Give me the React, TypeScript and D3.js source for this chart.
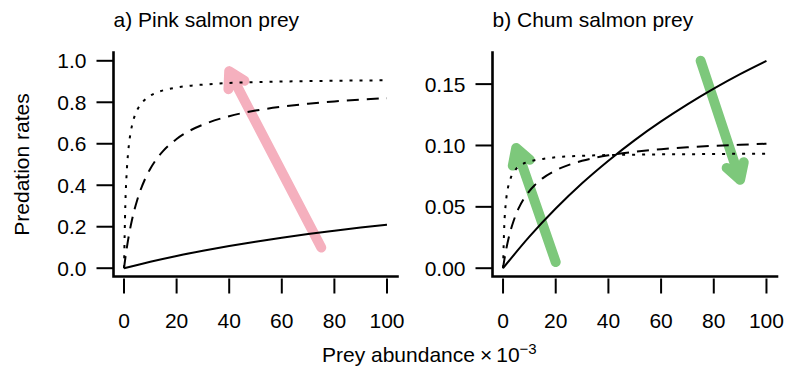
import React from "react";
import * as d3 from "d3";

// x values used for the steep curves and for the slow curves
const fastX = [0, 0.5, 1, 1.5, 2, 3, 4, 5, 6, 8, 10, 12, 15, 20, 25, 30, 40, 50, 60, 70, 80, 90, 100];
const slowX = [0, 10, 20, 30, 40, 50, 60, 70, 80, 90, 100];

const xTicks = [0, 20, 40, 60, 80, 100];
const pinkYTicks = [0, 0.2, 0.4, 0.6, 0.8, 1.0];
const chumYTicks = [0, 0.05, 0.1, 0.15];

// a) Pink salmon prey (read off the picture)
const pinkDotted = [0, 0.305, 0.458, 0.549, 0.61, 0.686, 0.732, 0.763, 0.784, 0.813, 0.832, 0.845, 0.858, 0.871, 0.88, 0.885, 0.893, 0.897, 0.9, 0.902, 0.904, 0.905, 0.906];
const pinkDashed = [0, 0.049, 0.093, 0.133, 0.169, 0.231, 0.284, 0.328, 0.367, 0.43, 0.48, 0.52, 0.567, 0.623, 0.663, 0.692, 0.733, 0.76, 0.779, 0.793, 0.804, 0.813, 0.82];
const pinkSolid = [0, 0.031, 0.059, 0.084, 0.107, 0.128, 0.147, 0.165, 0.181, 0.196, 0.21];

// b) Chum salmon prey
const chumDotted = [0, 0.036, 0.052, 0.061, 0.067, 0.074, 0.078, 0.081, 0.083, 0.0855, 0.087, 0.088, 0.089, 0.0904, 0.0911, 0.0916, 0.0922, 0.0925, 0.0928, 0.0929, 0.0931, 0.0932, 0.0933];
const chumDashed = [0, 0.007, 0.013, 0.0185, 0.0234, 0.0317, 0.0385, 0.0442, 0.0491, 0.0569, 0.0629, 0.0676, 0.0732, 0.0797, 0.0842, 0.0875, 0.092, 0.0949, 0.097, 0.0985, 0.0997, 0.1006, 0.1014];
const chumSolid = [0, 0.0257, 0.0486, 0.0692, 0.0876, 0.1044, 0.1196, 0.1335, 0.1463, 0.1581, 0.1689];

// arrows: x0, y0, x1, y1 in data units
const pinkArrows = [[75, 0.1, 40, 0.95]];
const chumArrows = [
  [20, 0.005, 5, 0.098],
  [75, 0.169, 90, 0.072],
];

const FONT = "'Liberation Sans', Arial, Helvetica, sans-serif";

interface Series {
  xs: number[];
  ys: number[];
  dash?: string;
}

interface PanelProps {
  title: string;
  left: number;
  right: number;
  yDomain: [number, number];
  yTicks: number[];
  yFormat: (d: number) => string;
  series: Series[];
  arrows: number[][];
  arrowColor: string;
}

const TOP = 52.5;
const BOTTOM = 276.5;

const Panel: React.FC<PanelProps> = ({ title, left, right, yDomain, yTicks, yFormat, series, arrows, arrowColor }) => {
  const x = d3.scaleLinear().domain([-4, 104]).range([left, right]);
  const y = d3.scaleLinear().domain(yDomain).range([BOTTOM, TOP]);

  const line = d3
    .line<[number, number]>()
    .x((d) => x(d[0]))
    .y((d) => y(d[1]))
    .curve(d3.curveMonotoneX);

  const arrowPath = (a: number[]) => {
    const x0 = x(a[0]), y0 = y(a[1]), x1 = x(a[2]), y1 = y(a[3]);
    const back = Math.atan2(y0 - y1, x0 - x1);
    const len = 18;
    const h1 = [x1 + len * Math.cos(back + Math.PI / 6), y1 + len * Math.sin(back + Math.PI / 6)];
    const h2 = [x1 + len * Math.cos(back - Math.PI / 6), y1 + len * Math.sin(back - Math.PI / 6)];
    return `M${x0},${y0}L${x1},${y1}M${h1[0]},${h1[1]}L${x1},${y1}L${h2[0]},${h2[1]}`;
  };

  return (
    <g>
      <text x={left} y={27} fontSize={21} fontFamily={FONT} fill="#000">
        {title}
      </text>

      {arrows.map((a, i) => (
        <path
          key={i}
          d={arrowPath(a)}
          fill="none"
          stroke={arrowColor}
          strokeWidth={10}
          strokeLinecap="round"
          strokeLinejoin="round"
        />
      ))}

      {series.map((s, i) => (
        <path
          key={i}
          d={line(s.xs.map((v, j) => [v, s.ys[j]] as [number, number])) || ""}
          fill="none"
          stroke="#000"
          strokeWidth={2}
          strokeDasharray={s.dash}
        />
      ))}

      {/* axes, L-shaped box */}
      <path
        d={`M${left},${TOP}L${left},${BOTTOM}L${right},${BOTTOM}`}
        fill="none"
        stroke="#000"
        strokeWidth={2.6}
        strokeLinecap="square"
      />

      {yTicks.map((t) => (
        <g key={t}>
          <line x1={left - 17} x2={left} y1={y(t)} y2={y(t)} stroke="#000" strokeWidth={2} />
          <text
            x={left - 27}
            y={y(t)}
            dy="0.36em"
            textAnchor="end"
            fontSize={21}
            fontFamily={FONT}
            fill="#000"
          >
            {yFormat(t)}
          </text>
        </g>
      ))}

      {xTicks.map((t) => (
        <g key={t}>
          <line x1={x(t)} x2={x(t)} y1={BOTTOM + 2} y2={BOTTOM + 17} stroke="#000" strokeWidth={2} />
          <text x={x(t)} y={328} textAnchor="middle" fontSize={21} fontFamily={FONT} fill="#000">
            {t}
          </text>
        </g>
      ))}
    </g>
  );
};

const App: React.FC = () => {
  const f1 = d3.format(".1f");
  const f2 = d3.format(".2f");
  return (
    <svg
      width={785}
      height={369}
      style={{ position: "absolute", left: 0, top: 0, background: "#fff" }}
    >
      <Panel
        title="a) Pink salmon prey"
        left={113.5}
        right={397.5}
        yDomain={[-0.04, 1.04]}
        yTicks={pinkYTicks}
        yFormat={f1}
        arrowColor="#F5B0BE"
        arrows={pinkArrows}
        series={[
          { xs: fastX, ys: pinkDotted, dash: "3,7" },
          { xs: fastX, ys: pinkDashed, dash: "12,8" },
          { xs: slowX, ys: pinkSolid },
        ]}
      />
      <Panel
        title="b) Chum salmon prey"
        left={492.5}
        right={777}
        yDomain={[-0.00676, 0.17576]}
        yTicks={chumYTicks}
        yFormat={f2}
        arrowColor="#7DC87B"
        arrows={chumArrows}
        series={[
          { xs: fastX, ys: chumDotted, dash: "3,7" },
          { xs: fastX, ys: chumDashed, dash: "12,8" },
          { xs: slowX, ys: chumSolid },
        ]}
      />

      <text
        transform="translate(29,164.5) rotate(-90)"
        textAnchor="middle"
        fontSize={21}
        fontFamily={FONT}
        fill="#000"
      >
        Predation rates
      </text>

      <text x={322} y={362} fontSize={21} fontFamily={FONT} fill="#000">
        Prey abundance
        <tspan dx={5}>×</tspan>
        <tspan dx={4}>10</tspan>
        <tspan fontSize={15} dy={-8}>−3</tspan>
      </text>
    </svg>
  );
};

export default App;
